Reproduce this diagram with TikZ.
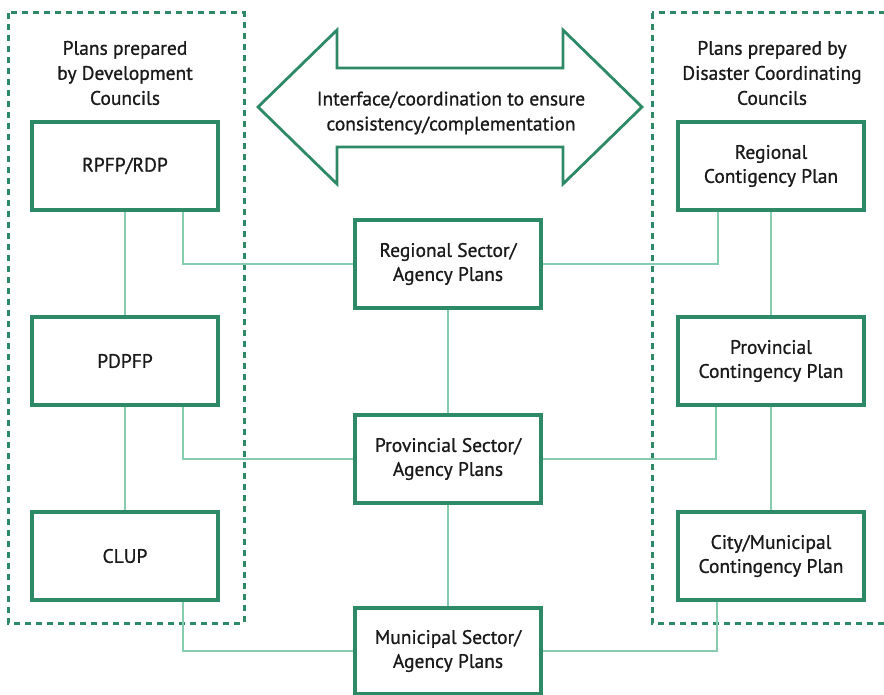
\documentclass[tikz,border=0pt]{standalone}
\usepackage{fontspec}
\setmainfont{PT Sans}[FakeBold=0.9]
\definecolor{boxgreen}{HTML}{2E8A66}
\definecolor{linkgreen}{HTML}{86CDB0}
\definecolor{inkdark}{HTML}{1A1A1A}
\begin{document}
\begin{tikzpicture}[x=1pt,y=-1pt,
  planbox/.style={draw=boxgreen,line width=3.2pt,fill=white,minimum width=186pt,minimum height=88pt,
    align=center,text=inkdark,font=\fontsize{19.5}{24}\selectfont,inner sep=2pt},
  link/.style={draw=linkgreen,line width=2.2pt},
  group/.style={draw=boxgreen,line width=3pt,dash pattern=on 6pt off 5pt},
  heading/.style={align=center,text=inkdark,font=\fontsize{19.5}{25}\selectfont},
  bigarrow/.style={draw=boxgreen,line width=2.8pt,fill=white,line join=miter}]
\useasboundingbox (0,0) rectangle (884,695);
\clip (0,0) rectangle (884,695);
% dashed groups
\draw[group] (8,13) rectangle (244,623);
\draw[group] (652,13) rectangle (890,623);
% headings
\node[heading] (devhead) at (125,73) {Plans prepared\\by Development\\Councils};
\node[heading] (dcchead) at (772,73) {Plans prepared by\\Disaster Coordinating\\Councils};
% double arrow
\draw[bigarrow] (258,107) -- (337,30) -- (337,68) -- (563,68) -- (563,30) -- (642,107)
  -- (563,184) -- (563,147) -- (337,147) -- (337,184) -- cycle;
\node[heading] (iface) at (451,113) {Interface/coordination to ensure\\consistency/complementation};
% plan boxes
\node[planbox] (rpfp) at (125,166) {RPFP/RDP};
\node[planbox] (pdpfp) at (125,361) {PDPFP};
\node[planbox] (clup) at (125,556) {CLUP};
\node[planbox] (rcp) at (771,166) {Regional\\Contigency Plan};
\node[planbox] (pcp) at (771,361) {Provincial\\Contingency Plan};
\node[planbox] (ccp) at (771,556) {City/Municipal\\Contingency Plan};
\node[planbox] (rsa) at (448,264) {Regional Sector/\\Agency Plans};
\node[planbox] (psa) at (448,459) {Provincial Sector/\\Agency Plans};
\node[planbox,minimum height=86pt] (msa) at (448,651) {Municipal Sector/\\Agency Plans};
% connectors
\draw[link] (rpfp.south) -- (pdpfp.north);
\draw[link] (pdpfp.south) -- (clup.north);
\draw[link] (rcp.south) -- (pcp.north);
\draw[link] (pcp.south) -- (ccp.north);
\draw[link] (rsa.south) -- (psa.north);
\draw[link] (psa.south) -- (msa.north);
\draw[link] ([xshift=58pt]rpfp.south) |- (rsa.west);
\draw[link] ([xshift=58pt]pdpfp.south) |- (psa.west);
\draw[link] ([xshift=58pt]clup.south) |- (msa.west);
\draw[link] ([xshift=-53pt]rcp.south) |- (rsa.east);
\draw[link] ([xshift=-55pt]pcp.south) |- (psa.east);
\draw[link] ([xshift=-54pt]ccp.south) |- (msa.east);
\end{tikzpicture}
\end{document}
